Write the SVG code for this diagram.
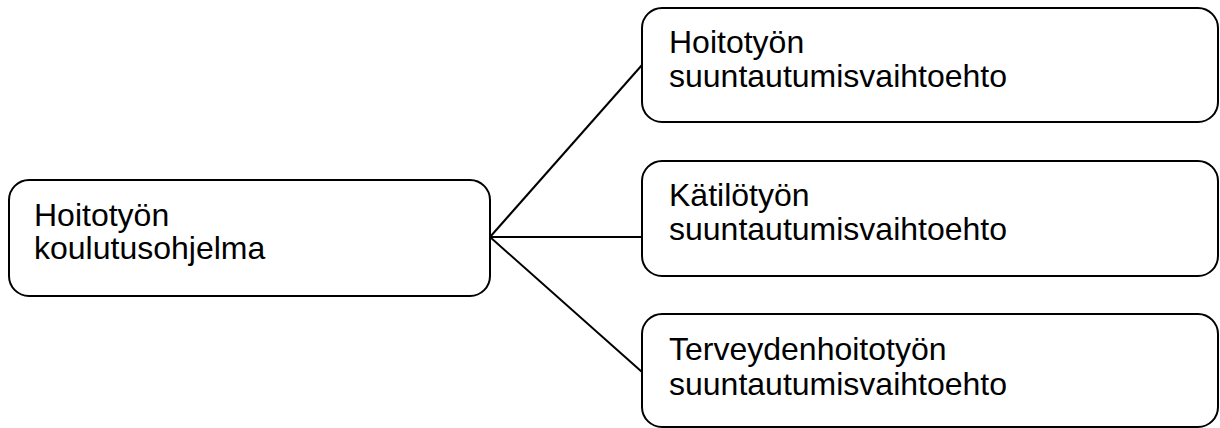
<svg xmlns="http://www.w3.org/2000/svg" width="1220" height="428" viewBox="0 0 1220 428">
  <style>
    .box { fill: #ffffff; stroke: #000000; stroke-width: 2; }
    .lbl { font-family: "Liberation Sans", Arial, sans-serif; font-size: 32px; fill: #000000; }
    .conn { stroke: #000000; stroke-width: 2; fill: none; }
  </style>
  <rect width="1220" height="428" fill="#ffffff"/>
  <g id="connectors">
    <line class="conn" x1="490" y1="237" x2="642" y2="65"/>
    <line class="conn" x1="490" y1="237" x2="642" y2="237"/>
    <line class="conn" x1="490" y1="237" x2="642" y2="372"/>
  </g>
  <g id="node-koulutusohjelma">
    <rect class="box" x="9" y="180" width="481" height="116" rx="20" ry="20"/>
    <text class="lbl" x="34" y="226">Hoitotyön</text>
    <text class="lbl" x="34" y="259">koulutusohjelma</text>
  </g>
  <g id="node-hoitotyon">
    <rect class="box" x="642" y="8" width="576" height="114" rx="20" ry="20"/>
    <text class="lbl" x="669" y="53">Hoitotyön</text>
    <text class="lbl" x="669" y="87">suuntautumisvaihtoehto</text>
  </g>
  <g id="node-katilotyon">
    <rect class="box" x="642" y="161" width="576" height="115" rx="20" ry="20"/>
    <text class="lbl" x="669" y="206">Kätilötyön</text>
    <text class="lbl" x="669" y="240">suuntautumisvaihtoehto</text>
  </g>
  <g id="node-terveydenhoitotyon">
    <rect class="box" x="642" y="314" width="576" height="113" rx="20" ry="20"/>
    <text class="lbl" x="669" y="360">Terveydenhoitotyön</text>
    <text class="lbl" x="669" y="395">suuntautumisvaihtoehto</text>
  </g>
</svg>
